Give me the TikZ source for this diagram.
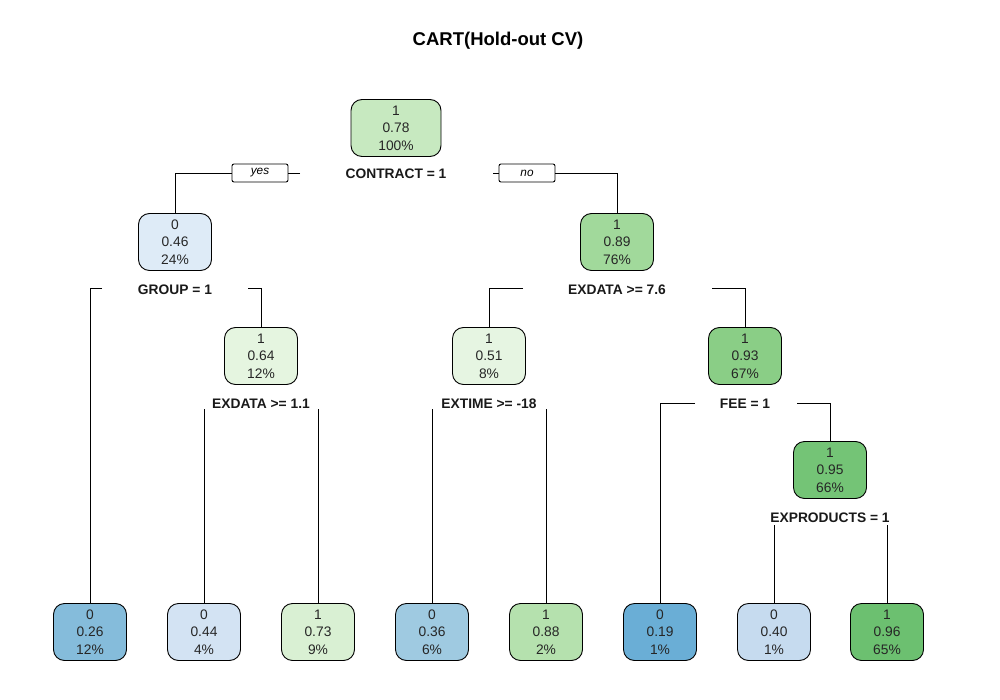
\documentclass[tikz,border=0pt]{standalone}
\usepackage{fontspec}
\setmainfont{Liberation Sans}
\usepackage{tikz}
\usetikzlibrary{positioning}
\definecolor{cRoot}{HTML}{C7E9C0}
\definecolor{cGroup}{HTML}{DEEBF7}
\definecolor{cExdataA}{HTML}{A1D99B}
\definecolor{cExdataB}{HTML}{E5F5E0}
\definecolor{cExtime}{HTML}{E6F5E2}
\definecolor{cFee}{HTML}{8ACE86}
\definecolor{cExprod}{HTML}{74C476}
\definecolor{cLeafA}{HTML}{85BCDB}
\definecolor{cLeafB}{HTML}{D3E3F3}
\definecolor{cLeafC}{HTML}{D9F0D3}
\definecolor{cLeafD}{HTML}{9FCAE1}
\definecolor{cLeafE}{HTML}{B5E1AE}
\definecolor{cLeafF}{HTML}{6AAED6}
\definecolor{cLeafG}{HTML}{C6DBEF}
\definecolor{cLeafH}{HTML}{6CC070}
\tikzstyle{treenode} = [rectangle, rounded corners=11pt, minimum width=73pt, minimum height=57pt, inner sep=1pt, align=center, draw=black, line width=0.9pt, text=black!85, font=\fontsize{13.8}{17.5}\selectfont]
\tikzstyle{splitlabel} = [font=\bfseries\fontsize{13.8}{15}\selectfont, text=black!90, inner sep=1pt]
\tikzstyle{answer} = [rectangle, rounded corners=2pt, minimum width=56pt, minimum height=18pt, inner sep=0pt, draw=black, line width=0.9pt, font=\itshape\fontsize{11.8}{13}\selectfont]
\tikzstyle{branch} = [line width=0.9pt, black]

\begin{document}
\begin{tikzpicture}[x=1pt, y=-1pt]
\useasboundingbox (0,0) rectangle (1000,700);

\node (title) [font=\bfseries\fontsize{18.5}{22}\selectfont] at (498,41) {CART(Hold-out CV)};

% inner nodes
\node (root) [treenode, fill=cRoot, minimum width=90pt] at (396,128) {1\\0.78\\100\%};
\node (group) [treenode, fill=cGroup] at (175,242) {0\\0.46\\24\%};
\node (exdataA) [treenode, fill=cExdataA] at (617,242) {1\\0.89\\76\%};
\node (exdataB) [treenode, fill=cExdataB] at (261,356) {1\\0.64\\12\%};
\node (extime) [treenode, fill=cExtime] at (489,356) {1\\0.51\\8\%};
\node (fee) [treenode, fill=cFee] at (745,356) {1\\0.93\\67\%};
\node (exprod) [treenode, fill=cExprod] at (830,470) {1\\0.95\\66\%};

% split labels
\node (rootLbl) [splitlabel] at (396,174) {CONTRACT = 1};
\node (groupLbl) [splitlabel] at (175,290) {GROUP = 1};
\node (exdataALbl) [splitlabel] at (617,290) {EXDATA >= 7.6};
\node (exdataBLbl) [splitlabel] at (261,404) {EXDATA >= 1.1};
\node (extimeLbl) [splitlabel] at (489,404) {EXTIME >= -18};
\node (feeLbl) [splitlabel] at (745,404) {FEE = 1};
\node (exprodLbl) [splitlabel] at (830,518) {EXPRODUCTS = 1};

% leaves
\node (leafA) [treenode, fill=cLeafA] at (90,632) {0\\0.26\\12\%};
\node (leafB) [treenode, fill=cLeafB] at (204,632) {0\\0.44\\4\%};
\node (leafC) [treenode, fill=cLeafC] at (318,632) {1\\0.73\\9\%};
\node (leafD) [treenode, fill=cLeafD] at (432,632) {0\\0.36\\6\%};
\node (leafE) [treenode, fill=cLeafE] at (546,632) {1\\0.88\\2\%};
\node (leafF) [treenode, fill=cLeafF] at (660,632) {0\\0.19\\1\%};
\node (leafG) [treenode, fill=cLeafG] at (774,632) {0\\0.40\\1\%};
\node (leafH) [treenode, fill=cLeafH] at (887,632) {1\\0.96\\65\%};

% yes / no
\node (yes) [answer] at (260,173) {yes};
\node (no) [answer] at (527,173) {no};

% line ends
\coordinate (rootL) at (300,173);
\coordinate (rootR) at (493,173);
\coordinate (groupL) at (102,288);
\coordinate (groupR) at (248,288);
\coordinate (exdataAL) at (523,288);
\coordinate (exdataAR) at (712,288);
\coordinate (exdataBL) at (204,409);
\coordinate (exdataBR) at (318,409);
\coordinate (extimeL) at (432,409);
\coordinate (extimeR) at (546,409);
\coordinate (feeL) at (695,403);
\coordinate (feeR) at (797,403);
\coordinate (exprodL) at (774,525);
\coordinate (exprodR) at (887,525);

\draw [branch] (rootL) -- (yes.east);
\draw [branch] (yes.west) -| (group.north);
\draw [branch] (rootR) -- (no.west);
\draw [branch] (no.east) -| (exdataA.north);
\draw [branch] (groupL) -| (leafA.north);
\draw [branch] (groupR) -| (exdataB.north);
\draw [branch] (exdataAL) -| (extime.north);
\draw [branch] (exdataAR) -| (fee.north);
\draw [branch] (exdataBL) -- (leafB.north);
\draw [branch] (exdataBR) -- (leafC.north);
\draw [branch] (extimeL) -- (leafD.north);
\draw [branch] (extimeR) -- (leafE.north);
\draw [branch] (feeL) -| (leafF.north);
\draw [branch] (feeR) -| (exprod.north);
\draw [branch] (exprodL) -- (leafG.north);
\draw [branch] (exprodR) -- (leafH.north);

\end{tikzpicture}
\end{document}
